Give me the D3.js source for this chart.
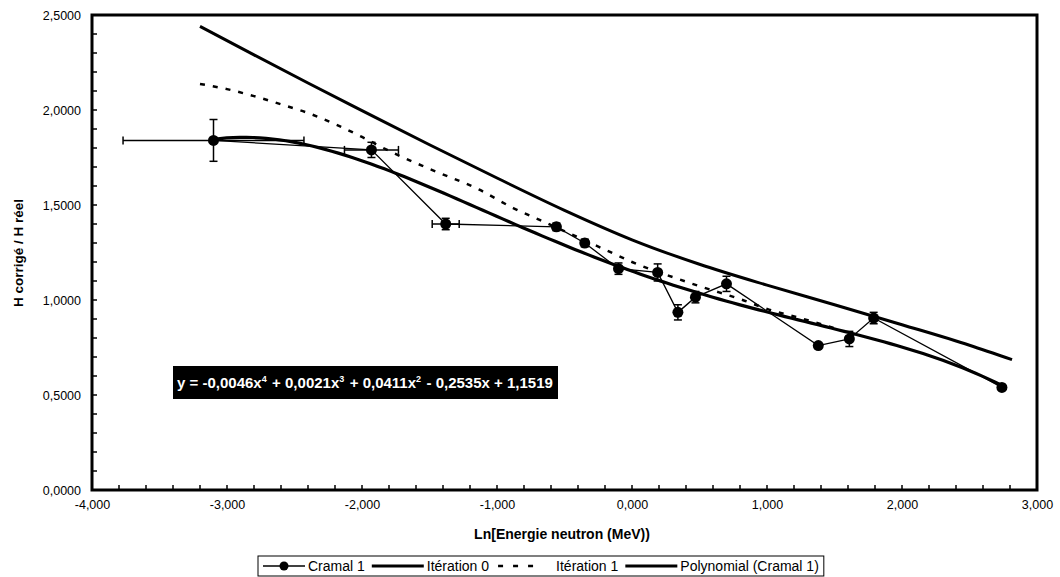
<!DOCTYPE html>
<html>
<head>
<meta charset="utf-8">
<script src="https://cdn.jsdelivr.net/npm/d3@7"></script>
<style>
  html, body { margin: 0; padding: 0; background: #fff; }
  svg { display: block; font-family: "Liberation Sans", Arial, sans-serif; }
</style>
</head>
<body>
<svg id="chart" width="1060" height="577"></svg>
<script>
// Mesures Cramal 1 : ln(E) et rapport H corrigé / H réel, avec incertitudes
const cramalX    = [-3.10, -1.93, -1.38, -0.56, -0.35, -0.10, 0.19, 0.34, 0.47, 0.70, 1.38, 1.61, 1.79, 2.74];
const cramalY    = [1.840, 1.790, 1.400, 1.385, 1.300, 1.165, 1.145, 0.935, 1.015, 1.085, 0.760, 0.795, 0.905, 0.540];
const cramalXErr = [0.67, 0.20, 0.10, 0.00, 0.00, 0.00, 0.00, 0.00, 0.00, 0.00, 0.00, 0.00, 0.00, 0.00];
const cramalYErr = [0.11, 0.04, 0.03, 0.02, 0.02, 0.03, 0.045, 0.04, 0.03, 0.04, 0.01, 0.04, 0.03, 0.00];

// Courbe de correction, itération 0
const iter0X = [-3.20, -2.80, -2.40, -2.00, -1.50, -1.00, -0.50, 0.00, 0.50, 1.00, 1.50, 2.00, 2.50, 2.815];
const iter0Y = [2.440, 2.290, 2.142, 1.997, 1.817, 1.642, 1.472, 1.317, 1.188, 1.078, 0.975, 0.870, 0.762, 0.686];

// Courbe de correction, itération 1
const iter1X = [-3.20, -3.00, -2.80, -2.60, -2.40, -2.20, -2.00, -1.80, -1.50, -1.126, -0.88, -0.68, -0.40, -0.163, 0.00, 0.32, 0.52, 0.82, 1.00, 1.22, 1.52];
const iter1Y = [2.137, 2.110, 2.073, 2.030, 1.984, 1.926, 1.858, 1.785, 1.690, 1.579, 1.484, 1.420, 1.330, 1.253, 1.200, 1.116, 1.068, 1.000, 0.953, 0.910, 0.847];

// Tendance polynomiale d'ordre 4 (coefficients de x^4 à x^0)
const polyCoefs = [-0.0046, 0.0021, 0.0411, -0.2535, 1.1519];

const xTicks = [-4, -3, -2, -1, 0, 1, 2, 3];
const yTicks = [0, 0.5, 1, 1.5, 2, 2.5];
const legendLabels = ["Cramal 1", "Itération 0", "Itération 1", "Polynomial (Cramal 1)"];

(function draw() {
  const svg = d3.select("#chart");
  const locale = d3.formatLocale({ decimal: ",", thousands: " ", grouping: [3], currency: ["", " €"], minus: "-" });
  const fx = locale.format(".3f");
  const fy = locale.format(".4f");

  const pL = 92, pR = 1037, pT = 15, pB = 490;
  const x = d3.scaleLinear().domain([-4, 3]).range([pL, pR]);
  const y = d3.scaleLinear().domain([0, 2.5]).range([pB, pT]);

  // Graduations secondaires
  const g = svg.append("g");
  const xMinor = d3.range(-4, 3.0001, 0.2);
  const yMinor = d3.range(0, 2.5001, 0.1);
  g.selectAll(".xm").data(xMinor).join("line")
    .attr("x1", d => x(d)).attr("x2", d => x(d))
    .attr("y1", pB).attr("y2", pB - 5)
    .attr("stroke", "#000").attr("stroke-width", 1.5);
  g.selectAll(".ym").data(yMinor).join("line")
    .attr("x1", pL).attr("x2", pL + 5)
    .attr("y1", d => y(d)).attr("y2", d => y(d))
    .attr("stroke", "#000").attr("stroke-width", 1.5);

  // Axes
  const xAxis = d3.axisBottom(x).tickValues(xTicks).tickFormat(fx).tickSize(0).tickPadding(10);
  const yAxis = d3.axisLeft(y).tickValues(yTicks).tickFormat(fy).tickSize(0).tickPadding(11);
  const gx = svg.append("g").attr("transform", `translate(0,${pB})`).call(xAxis);
  const gy = svg.append("g").attr("transform", `translate(${pL},0)`).call(yAxis);
  [gx, gy].forEach(a => {
    a.select(".domain").remove();
    a.selectAll("text").attr("font-size", 12.5).attr("fill", "#000")
      .attr("font-family", "'Liberation Sans', Arial, sans-serif");
  });

  // Cadre de la zone de tracé
  svg.append("rect")
    .attr("x", pL).attr("y", pT)
    .attr("width", pR - pL).attr("height", pB - pT)
    .attr("fill", "none").attr("stroke", "#000").attr("stroke-width", 3);

  // Courbes
  const line = d3.line().x(d => x(d[0])).y(d => y(d[1])).curve(d3.curveMonotoneX);
  const iter0 = iter0X.map((v, i) => [v, iter0Y[i]]);
  const iter1 = iter1X.map((v, i) => [v, iter1Y[i]]);

  svg.append("path").datum(iter0).attr("d", line)
    .attr("fill", "none").attr("stroke", "#000").attr("stroke-width", 3);

  svg.append("path").datum(iter1).attr("d", line)
    .attr("fill", "none").attr("stroke", "#000").attr("stroke-width", 2.5)
    .attr("stroke-dasharray", "5,8");

  // Tendance polynomiale sur l'étendue des mesures
  const polyVal = xv => polyCoefs.reduce((acc, c) => acc * xv + c, 0);
  const xMin = d3.min(cramalX), xMax = d3.max(cramalX);
  const polyPts = d3.range(0, 121).map(i => {
    const xv = xMin + (xMax - xMin) * i / 120;
    return [xv, polyVal(xv)];
  });
  svg.append("path").datum(polyPts)
    .attr("d", d3.line().x(d => x(d[0])).y(d => y(d[1])))
    .attr("fill", "none").attr("stroke", "#000").attr("stroke-width", 3.2);

  // Série Cramal 1 avec barres d'erreur
  const cramal = cramalX.map((v, i) => ({ x: v, y: cramalY[i], ex: cramalXErr[i], ey: cramalYErr[i] }));
  svg.append("path").datum(cramal)
    .attr("d", d3.line().x(d => x(d.x)).y(d => y(d.y)))
    .attr("fill", "none").attr("stroke", "#000").attr("stroke-width", 1.3);

  const eb = svg.append("g").attr("stroke", "#000").attr("stroke-width", 1.5);
  cramal.filter(d => d.ey > 0).forEach(d => {
    eb.append("line").attr("x1", x(d.x)).attr("x2", x(d.x)).attr("y1", y(d.y - d.ey)).attr("y2", y(d.y + d.ey));
    [d.y - d.ey, d.y + d.ey].forEach(v => eb.append("line")
      .attr("x1", x(d.x) - 4).attr("x2", x(d.x) + 4).attr("y1", y(v)).attr("y2", y(v)));
  });
  cramal.filter(d => d.ex > 0).forEach(d => {
    eb.append("line").attr("x1", x(d.x - d.ex)).attr("x2", x(d.x + d.ex)).attr("y1", y(d.y)).attr("y2", y(d.y));
    [d.x - d.ex, d.x + d.ex].forEach(v => eb.append("line")
      .attr("x1", x(v)).attr("x2", x(v)).attr("y1", y(d.y) - 4).attr("y2", y(d.y) + 4));
  });

  svg.append("g").selectAll("circle").data(cramal).join("circle")
    .attr("cx", d => x(d.x)).attr("cy", d => y(d.y)).attr("r", 5.5).attr("fill", "#000");

  // Équation de la tendance
  const eqG = svg.append("g");
  eqG.append("rect").attr("x", 173).attr("y", 366).attr("width", 385).attr("height", 33).attr("fill", "#000");
  const eq = eqG.append("text").attr("x", 177).attr("y", 388)
    .attr("fill", "#fff").attr("font-weight", "bold").attr("font-size", 15);
  const fc = v => locale.format(".4f")(Math.abs(v));
  const sgn = v => (v < 0 ? " - " : " + ");
  const parts = [
    ["y = " + (polyCoefs[0] < 0 ? "-" : "") + fc(polyCoefs[0]) + "x", "4"],
    [sgn(polyCoefs[1]) + fc(polyCoefs[1]) + "x", "3"],
    [sgn(polyCoefs[2]) + fc(polyCoefs[2]) + "x", "2"],
    [sgn(polyCoefs[3]) + fc(polyCoefs[3]) + "x" + sgn(polyCoefs[4]) + fc(polyCoefs[4]), null]
  ];
  parts.forEach(([t, sup]) => {
    eq.append("tspan").text(t);
    if (sup) {
      eq.append("tspan").attr("dy", -6).attr("font-size", 9).text(sup);
      eq.append("tspan").attr("dy", 6).text("\u200A");
    }
  });

  // Titres des axes
  svg.append("text").attr("x", 562).attr("y", 539).attr("text-anchor", "middle")
    .attr("font-weight", "bold").attr("font-size", 14).text("Ln[Energie neutron (MeV))");
  svg.append("text").attr("transform", "translate(23,253) rotate(-90)").attr("text-anchor", "middle")
    .attr("font-weight", "bold").attr("font-size", 13.5).text("H corrigé / H réel");

  // Légende
  const lg = svg.append("g");
  const bx = 258;
  const box = lg.append("rect").attr("x", bx).attr("y", 556).attr("width", 564).attr("height", 20)
    .attr("fill", "#fff").attr("stroke", "#000").attr("stroke-width", 1);
  const ly = 566;
  let cx0 = bx + 5;
  legendLabels.forEach((lab, i) => {
    const sw = i === 0 ? 42 : (i === 2 ? 44 : 52);
    const l = lg.append("line").attr("x1", cx0).attr("x2", cx0 + sw).attr("y1", ly).attr("y2", ly).attr("stroke", "#000");
    if (i === 0) {
      l.attr("stroke-width", 1.3);
      lg.append("circle").attr("cx", cx0 + sw / 2).attr("cy", ly).attr("r", 4.5).attr("fill", "#000");
    } else if (i === 2) {
      l.attr("stroke-width", 2.5).attr("stroke-dasharray", "5,10").attr("x1", cx0 + 2);
    } else {
      l.attr("stroke-width", 3);
    }
    const gap = i === 2 ? 16 : 3;
    const t = lg.append("text").attr("x", cx0 + sw + gap).attr("y", ly + 5).attr("font-size", 14).text(lab);
    cx0 += sw + gap + t.node().getComputedTextLength() + 7;
  });
  box.attr("width", cx0 - bx - 2);
})();
</script>
</body>
</html>
